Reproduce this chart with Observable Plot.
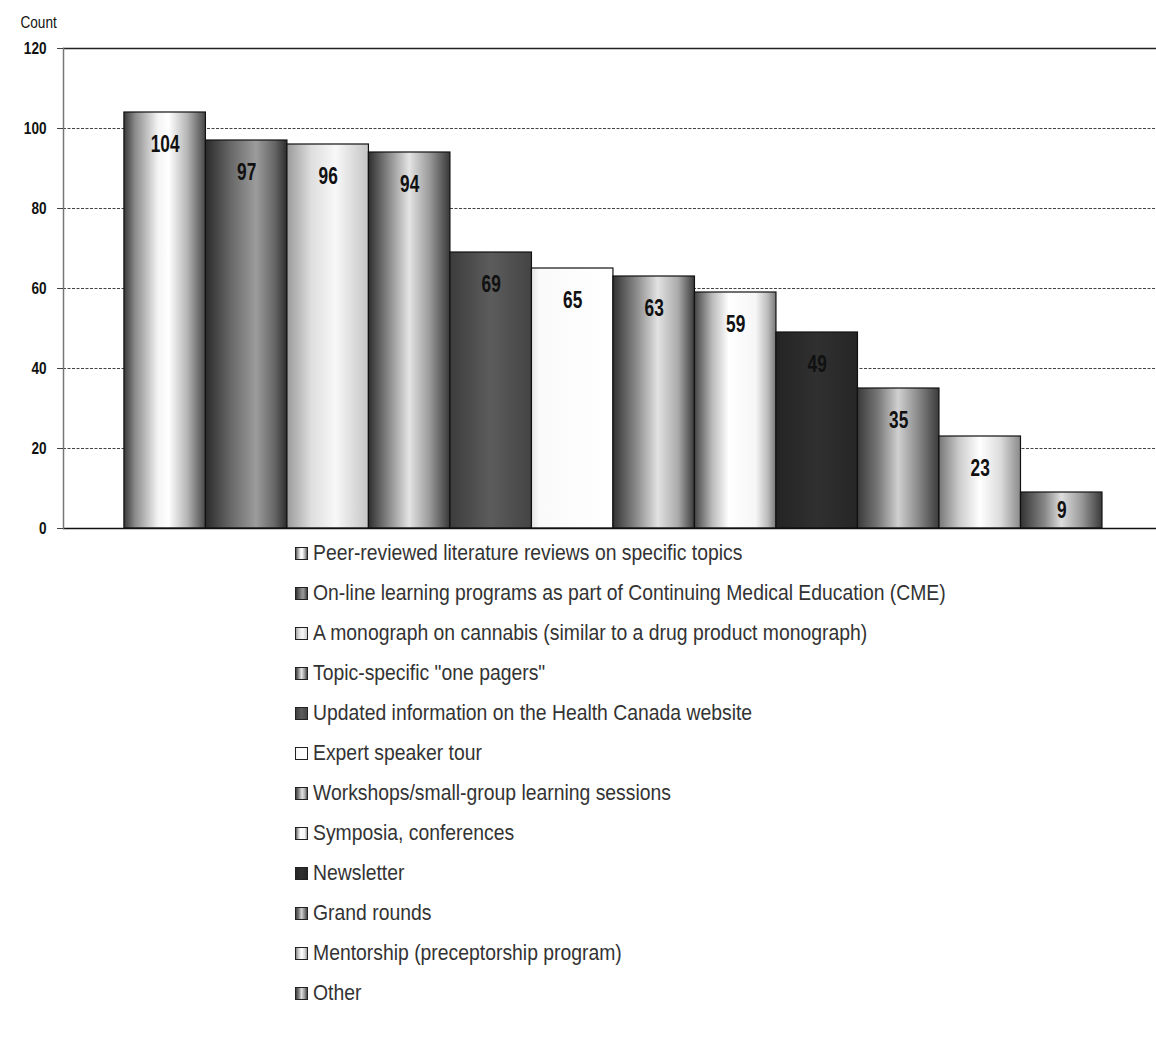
<!DOCTYPE html>
<html>
<head>
<meta charset="utf-8">
<script src="https://cdn.jsdelivr.net/npm/d3@7"></script>
<script src="https://cdn.jsdelivr.net/npm/@observablehq/plot@0.6"></script>
<style>
  body { margin: 0; background: #fff; }
  #page { position: relative; width: 1156px; height: 1038px; font-family: "Liberation Sans", Arial, sans-serif; }
  #legend { position: absolute; left: 295px; top: 533px; }
  .item { display: flex; align-items: center; height: 40px; font-size: 22px; color: #333; white-space: nowrap; }
  .item svg { margin-right: 5px; flex: none; }
  .item span { display: inline-block; transform: scaleX(0.88); transform-origin: left center; }
</style>
</head>
<body>
<div id="page">
  <div id="chart"></div>
  <div id="legend"></div>
</div>
<script>
// Preferred resource types and how many respondents chose each
const categories = [
  "Peer-reviewed literature reviews on specific topics",
  "On-line learning programs as part of Continuing Medical Education (CME)",
  "A monograph on cannabis (similar to a drug product monograph)",
  "Topic-specific \"one pagers\"",
  "Updated information on the Health Canada website",
  "Expert speaker tour",
  "Workshops/small-group learning sessions",
  "Symposia, conferences",
  "Newsletter",
  "Grand rounds",
  "Mentorship (preceptorship program)",
  "Other"
];
const counts = [104, 97, 96, 94, 69, 65, 63, 59, 49, 35, 23, 9];
const yTicks = [0, 20, 40, 60, 80, 100, 120];

// Shaded grey fills, one horizontal gradient per category
const shades = [
  [[0, "#383838"], [0.14, "#8c8c8c"], [0.42, "#f4f4f4"], [0.55, "#ffffff"], [0.78, "#b4b4b4"], [1, "#474747"]],
  [[0, "#2a2a2a"], [0.3, "#666"], [0.62, "#9c9c9c"], [0.85, "#666"], [1, "#2c2c2c"]],
  [[0, "#9a9a9a"], [0.3, "#dedede"], [0.6, "#f8f8f8"], [1, "#c4c4c4"]],
  [[0, "#2e2e2e"], [0.25, "#8a8a8a"], [0.5, "#e4e4e4"], [0.75, "#9a9a9a"], [1, "#383838"]],
  [[0, "#3c3c3c"], [0.5, "#5c5c5c"], [1, "#444"]],
  [[0, "#e4e4e4"], [0.1, "#fafafa"], [1, "#ffffff"]],
  [[0, "#333"], [0.28, "#888"], [0.55, "#e2e2e2"], [0.8, "#aaa"], [1, "#3a3a3a"]],
  [[0, "#444"], [0.22, "#bbb"], [0.42, "#fff"], [0.75, "#f6f6f6"], [0.9, "#bbb"], [1, "#777"]],
  [[0, "#242424"], [0.5, "#303030"], [1, "#262626"]],
  [[0, "#3a3a3a"], [0.25, "#777"], [0.5, "#d0d0d0"], [0.75, "#888"], [1, "#3a3a3a"]],
  [[0, "#777"], [0.25, "#ccc"], [0.5, "#fff"], [0.75, "#ddd"], [1, "#8a8a8a"]],
  [[0, "#333"], [0.3, "#888"], [0.5, "#dedede"], [0.75, "#999"], [1, "#3a3a3a"]]
];

// Shared gradient definitions, used by the bars and the legend swatches
const ns = "http://www.w3.org/2000/svg";
const defsSvg = document.createElementNS(ns, "svg");
defsSvg.setAttribute("width", 0);
defsSvg.setAttribute("height", 0);
defsSvg.style.position = "absolute";
const defs = document.createElementNS(ns, "defs");
shades.forEach((stops, i) => {
  const g = document.createElementNS(ns, "linearGradient");
  g.setAttribute("id", `shade-${i}`);
  g.setAttribute("x1", "0"); g.setAttribute("x2", "1");
  g.setAttribute("y1", "0"); g.setAttribute("y2", "0");
  for (const [o, c] of stops) {
    const s = document.createElementNS(ns, "stop");
    s.setAttribute("offset", o);
    s.setAttribute("stop-color", c);
    g.appendChild(s);
  }
  defs.appendChild(g);
});
defsSvg.appendChild(defs);
document.body.prepend(defsSvg);

const data = categories.map((name, i) => ({ name, count: counts[i], shade: `url(#shade-${i})` }));

const font = "\"Liberation Sans\", Arial, sans-serif";

const chart = Plot.plot({
  width: 1156,
  height: 540,
  marginLeft: 63,
  marginRight: 0,
  marginTop: 48,
  marginBottom: 12,
  style: { fontFamily: font, fontSize: "16px", color: "#111", background: "white" },
  x: { domain: categories, axis: null, paddingInner: 0, paddingOuter: 0.705, align: 0.53, round: false },
  y: { domain: [0, 120], axis: null },
  color: { type: "identity" },
  marks: [
    Plot.ruleY(yTicks.filter(t => t > 0 && t < 120), { stroke: "#444", strokeWidth: 1, strokeDasharray: "3,1.5" }),
    Plot.ruleY([120], { stroke: "#222", strokeWidth: 1.3 }),
    Plot.barY(data, { x: "name", y: "count", fill: "shade", stroke: "#111", strokeWidth: 1.2 }),
    // value labels sit just inside the top of each bar (mid-bar for the short one)
    Plot.text(data, {
      x: "name", y: d => Math.max(d.count - 8, d.count / 2), text: d => String(d.count),
      fontSize: 24, fontWeight: "bold", fill: "#111", className: "value-label"
    }),
    Plot.ruleY([0], { stroke: "#111", strokeWidth: 1.6 }),
    Plot.frame({ anchor: "left", stroke: "#777", strokeWidth: 1.5 }),
    Plot.axisY(yTicks, {
      tickSize: 6, tickPadding: 11, stroke: "#444", fill: "#111", fontSize: 17, fontWeight: "bold",
      label: null, className: "narrow"
    }),
    Plot.text(["Count"], {
      frameAnchor: "top-left", dx: -43, dy: -33, textAnchor: "start",
      fontSize: 17, fill: "#111", className: "narrow"
    })
  ]
});
document.getElementById("chart").appendChild(chart);

// Condensed lettering for the chart's texts
function condense(selector, k) {
  d3.select(chart).selectAll(`${selector} text`).each(function () {
    const t = this.getAttribute("transform") || "";
    this.setAttribute("transform", `${t} scale(${k},1)`);
  });
}
condense(".narrow", 0.8);
condense(".value-label", 0.72);

// Legend: one row per category, swatch then name
const legend = d3.select("#legend");
categories.forEach((name, i) => {
  const row = legend.append("div").attr("class", "item");
  const sw = row.append("svg").attr("width", 13).attr("height", 13);
  sw.append("rect").attr("x", 0.5).attr("y", 0.5).attr("width", 12).attr("height", 12)
    .attr("fill", `url(#shade-${i})`).attr("stroke", "#222");
  row.append("span").text(name);
});
</script>
</body>
</html>
